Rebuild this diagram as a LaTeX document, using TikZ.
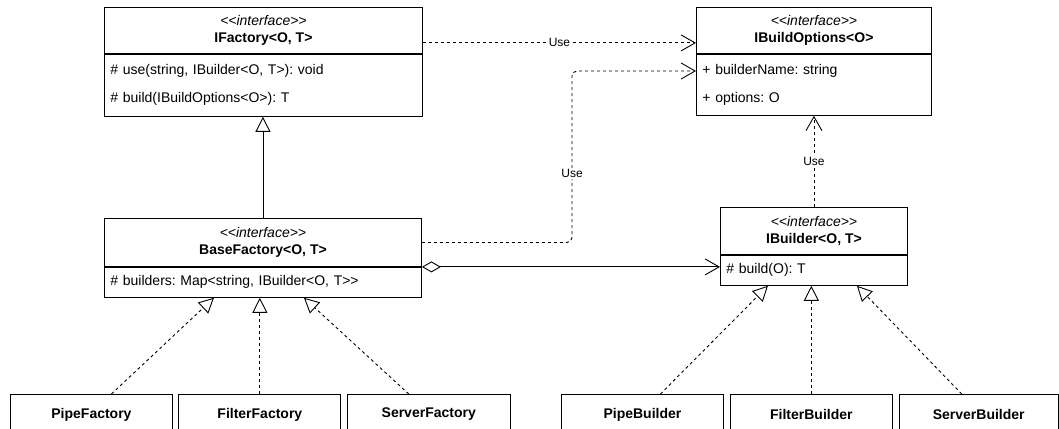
\documentclass[tikz,border=0pt]{standalone}
\usepackage{fontspec}
\setmainfont{Liberation Sans}[Ligatures=TeXOff]
\usetikzlibrary{arrows.meta,positioning}
\frenchspacing

\tikzset{
	umlhead/.style={draw, line width=0.9pt, anchor=north west, inner sep=0pt, align=center, font=\fontsize{14}{17}\selectfont},
	umlbody/.style={draw, line width=0.9pt, anchor=north west, inner xsep=6pt, inner ysep=0pt, align=left, font=\fontsize{14}{17}\selectfont},
	usage/.style={line width=0.9pt, dash pattern=on 3pt off 3pt, -{Straight Barb[length=14pt,width=16pt]}},
	realize/.style={line width=0.9pt, dash pattern=on 3pt off 3pt, -{Triangle[open,length=15pt,width=15pt]}},
	extend/.style={line width=0.9pt, -{Triangle[open,length=15pt,width=15pt]}},
	aggr/.style={line width=0.9pt, {Diamond[open,length=19pt,width=11pt]}-{Straight Barb[length=14pt,width=16pt]}},
	edgelabel/.style={fill=white, inner sep=1pt, font=\fontsize{12}{14}\selectfont}
}

\begin{document}
\begin{tikzpicture}[x=1pt, y=-1pt]
				\useasboundingbox (0,0) rectangle (1059,428);
				\clip (0,0) rectangle (1059,428);

				% Interfaces
				\node[umlhead, minimum width=318pt, minimum height=46pt] (ifac) at (104,7) {\textit{<<interface>>}\\\textbf{IFactory<O, T>}};
				\node[umlbody, text width=306pt, minimum height=62pt] (ifacm) at (ifac.south west) {\# use(string, IBuilder<O, T>): void\\[11pt]\# build(IBuildOptions<O>): T};
				\node[umlhead, minimum width=235pt, minimum height=46pt] (ibo) at (696,7) {\textit{<<interface>>}\\\textbf{IBuildOptions<O>}};
				\node[umlbody, text width=223pt, minimum height=61pt] (ibom) at (ibo.south west) {+ builderName: string\\[11pt]+ options: O};
				\node[umlhead, minimum width=317pt, minimum height=48pt] (bfac) at (104,218) {\textit{<<interface>>}\\\textbf{BaseFactory<O, T>}};
				\node[umlbody, text width=305pt, minimum height=30pt] (bfacm) at (bfac.south west) {\# builders: Map<string, IBuilder<O, T>{}>};
				\node[umlhead, minimum width=187pt, minimum height=47pt] (ibld) at (720,207) {\textit{<<interface>>}\\\textbf{IBuilder<O, T>}};
				\node[umlbody, text width=175pt, minimum height=30pt] (ibldm) at (ibld.south west) {\# build(O): T};

				% Factories
				\node[umlhead, minimum width=162pt, minimum height=40pt] (pfac) at (10,394) {\textbf{PipeFactory}};
				\node[umlhead, minimum width=162pt, minimum height=40pt, right=5.5pt of pfac] (ffac) {\textbf{FilterFactory}};
				\node[umlhead, minimum width=163pt, minimum height=40pt, right=5.5pt of ffac] (sfac) {\textbf{ServerFactory}};

				% Builders
				\node[umlhead, minimum width=162pt, minimum height=40pt] (pbld) at (561,394) {\textbf{PipeBuilder}};
				\node[umlhead, minimum width=162pt, minimum height=40pt, right=6pt of pbld] (fbld) {\textbf{FilterBuilder}};
				\node[umlhead, minimum width=159pt, minimum height=40pt, right=6pt of fbld] (sbld) {\textbf{ServerBuilder}};

				% Relations
				\draw[extend] (bfac.north) -- (bfac.north |- ifacm.south);
				\draw[usage] ([yshift=11pt]ifac.south east) -- node[edgelabel] (use1) {Use} ([yshift=11pt]ibo.south west);
				\coordinate (bend) at (572,71);
				\draw[usage, rounded corners=5pt] (bfac.east) -| node[edgelabel, pos=0.7] (use2) {Use} (bend) -- (bend -| ibom.west);
				\draw[aggr] (bfacm.north east) -- (bfacm.north east -| ibldm.west);
				\draw[usage] (ibld.north) -- node[edgelabel] (use3) {Use} (ibom.south);

				\draw[realize] ([xshift=20pt]pfac.north) -- ([xshift=-49pt]bfacm.south);
				\draw[realize] (ffac.north) -- (ffac.north |- bfacm.south);
				\draw[realize] ([xshift=-20pt]sfac.north) -- ([xshift=41pt]bfacm.south);
				\draw[realize] ([xshift=18pt]pbld.north) -- ([xshift=-46pt]ibldm.south);
				\draw[realize] (fbld.north) -- (fbld.north |- ibldm.south);
				\draw[realize] ([xshift=-17pt]sbld.north) -- ([xshift=43pt]ibldm.south);
			\end{tikzpicture}
\end{document}
